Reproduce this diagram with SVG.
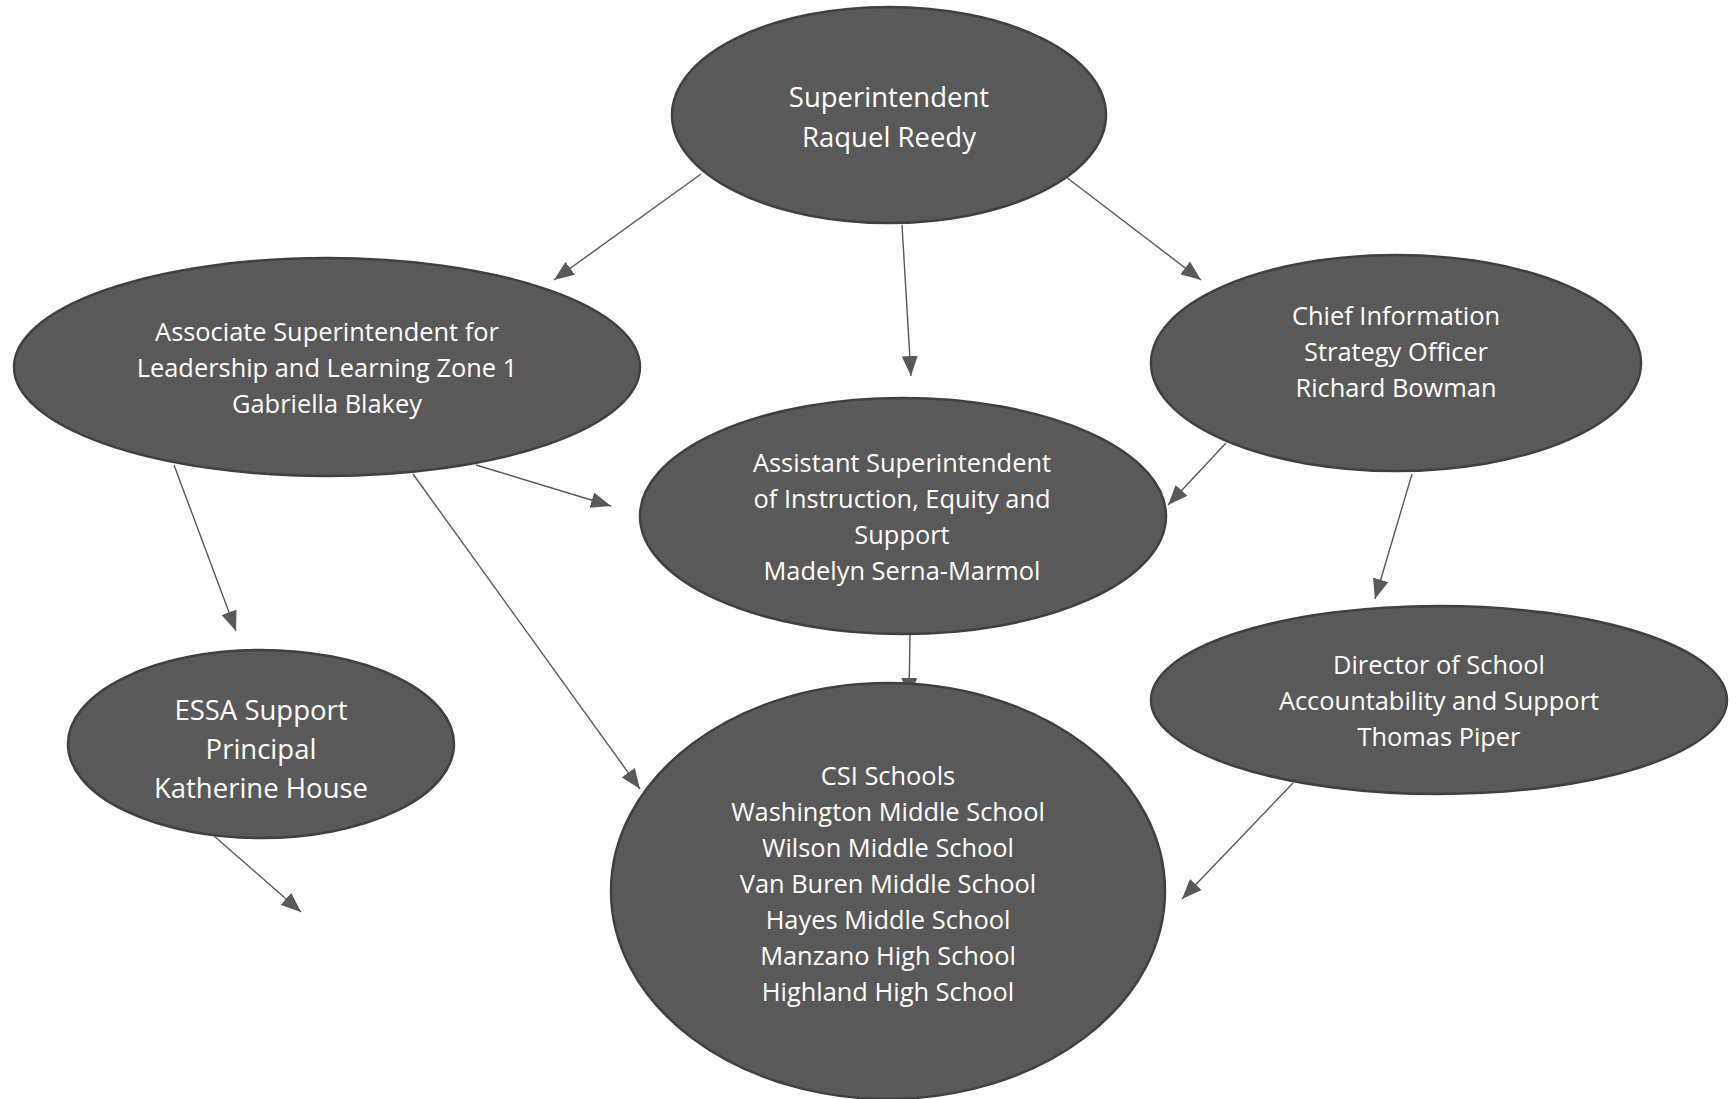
<svg xmlns="http://www.w3.org/2000/svg" width="1736" height="1099" viewBox="0 0 1736 1099">
<style>
.node{fill:#595959;stroke:#404040;stroke-width:2.5}
.t{font-family:"Open Sans","Noto Sans",sans-serif;font-size:25.4px;fill:#ffffff;text-anchor:middle}
.tl{font-size:27.5px}
.edge{stroke:#595959;stroke-width:1.4;fill:none;marker-end:url(#ah)}
</style>
<defs>
<marker id="ah" markerUnits="userSpaceOnUse" markerWidth="22" markerHeight="16" refX="20" refY="8" orient="auto">
<path d="M0,0 L20,8 L0,16 Z" fill="#595959"/>
</marker>
</defs>
<rect width="1736" height="1099" fill="#ffffff"/>
<g id="connectors">
<line class="edge" x1="701" y1="174" x2="554" y2="280"/>
<line class="edge" x1="902" y1="225" x2="911" y2="376"/>
<line class="edge" x1="1066" y1="177" x2="1201" y2="280"/>
<line class="edge" x1="476" y1="465" x2="611" y2="506"/>
<line class="edge" x1="174" y1="465" x2="236" y2="631"/>
<line class="edge" x1="413" y1="474" x2="640" y2="789"/>
<line class="edge" x1="1226" y1="443" x2="1168" y2="505"/>
<line class="edge" x1="1412" y1="474" x2="1375" y2="599"/>
<line class="edge" x1="1293" y1="783" x2="1182" y2="899"/>
<line class="edge" x1="214" y1="836" x2="301" y2="912"/>
<line class="edge" x1="910" y1="634" x2="909" y2="698"/>
</g>
<g id="superintendent">
<ellipse class="node" cx="889" cy="115" rx="217" ry="108"/>
<text class="t tl" x="889" y="107">Superintendent</text>
<text class="t tl" x="889" y="147">Raquel Reedy</text>
</g>
<g id="associate">
<ellipse class="node" cx="327" cy="367" rx="313" ry="109"/>
<text class="t" x="327" y="341">Associate Superintendent for</text>
<text class="t" x="327" y="377">Leadership and Learning Zone 1</text>
<text class="t" x="327" y="413">Gabriella Blakey</text>
</g>
<g id="chief">
<ellipse class="node" cx="1396" cy="363" rx="245" ry="108"/>
<text class="t" x="1396" y="325">Chief Information</text>
<text class="t" x="1396" y="361">Strategy Officer</text>
<text class="t" x="1396" y="397">Richard Bowman</text>
</g>
<g id="assistant">
<ellipse class="node" cx="903" cy="516" rx="263" ry="118"/>
<text class="t" x="902" y="472">Assistant Superintendent</text>
<text class="t" x="902" y="508">of Instruction, Equity and</text>
<text class="t" x="902" y="544">Support</text>
<text class="t" x="902" y="580">Madelyn Serna-Marmol</text>
</g>
<g id="essa">
<ellipse class="node" cx="261" cy="744" rx="193" ry="94"/>
<text class="t tl" x="261" y="720">ESSA Support</text>
<text class="t tl" x="261" y="759">Principal</text>
<text class="t tl" x="261" y="798">Katherine House</text>
</g>
<g id="director">
<ellipse class="node" cx="1439" cy="700" rx="288" ry="94"/>
<text class="t" x="1439" y="674">Director of School</text>
<text class="t" x="1439" y="710">Accountability and Support</text>
<text class="t" x="1439" y="746">Thomas Piper</text>
</g>
<g id="csi">
<ellipse class="node" cx="888" cy="891" rx="277" ry="208"/>
<text class="t" x="888" y="785">CSI Schools</text>
<text class="t" x="888" y="821">Washington Middle School</text>
<text class="t" x="888" y="857">Wilson Middle School</text>
<text class="t" x="888" y="893">Van Buren Middle School</text>
<text class="t" x="888" y="929">Hayes Middle School</text>
<text class="t" x="888" y="965">Manzano High School</text>
<text class="t" x="888" y="1001">Highland High School</text>
</g>
</svg>
